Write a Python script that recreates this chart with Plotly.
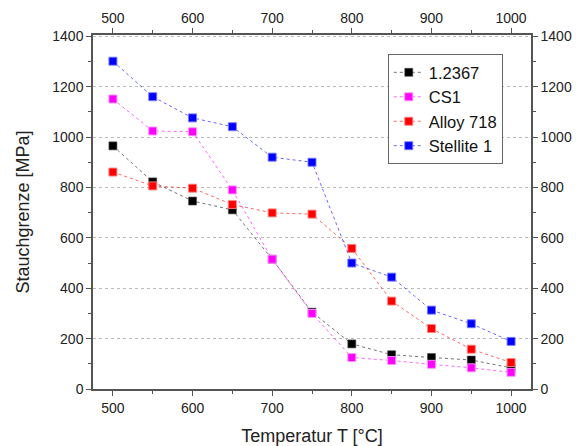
import plotly.graph_objects as go

temps = [500, 550, 600, 650, 700, 750, 800, 850, 900, 950, 1000]
s_12367 = [965, 822, 746, 711, 515, 305, 179, 136, 125, 115, 84]
s_cs1 = [1151, 1024, 1021, 790, 515, 300, 125, 113, 98, 84, 66]
s_alloy718 = [861, 806, 797, 732, 699, 694, 558, 349, 240, 158, 105]
s_stellite1 = [1301, 1160, 1076, 1041, 920, 900, 500, 444, 313, 259, 189]

names = ["1.2367", "CS1", "Alloy 718", "Stellite 1"]
series = [s_12367, s_cs1, s_alloy718, s_stellite1]
colors = ["#000000", "#FF00FF", "#FF0000", "#0000FF"]
line_colors = ["rgba(0,0,0,0.55)", "rgba(255,0,255,0.6)", "rgba(255,0,0,0.6)", "rgba(0,0,255,0.6)"]
border_colors = ["rgba(80,80,80,0.6)", "rgba(255,150,255,0.9)", "rgba(255,130,130,0.9)", "rgba(120,120,255,0.9)"]

fig = go.Figure()
for n, s, c, lc, bc in zip(names, series, colors, line_colors, border_colors):
    fig.add_trace(go.Scatter(
        x=temps, y=s, name=n, mode="lines+markers",
        line=dict(color=lc, width=1, dash="dot"),
        marker=dict(symbol="square", size=8, color=c, line=dict(color=bc, width=1)),
    ))

# invisible trace for top/right axes
fig.add_trace(go.Scatter(x=[temps[0]], y=[s_12367[0]], xaxis="x2", yaxis="y2",
                         mode="markers", marker=dict(opacity=0), showlegend=False,
                         hoverinfo="skip"))

FAM = "Liberation Sans, Arial, sans-serif"
font = dict(family=FAM, size=14, color="#222222")
axcommon = dict(showline=True, linecolor="#555555", linewidth=1.5,
                ticks="outside", ticklen=5, tickwidth=1.2, tickcolor="#555555",
                tickfont=font, zeroline=False, automargin=False)

x_range = [475, 1025]
y_range = [0, 1405]
xt = [500, 600, 700, 800, 900, 1000]
yt = [0, 200, 400, 600, 800, 1000, 1200, 1400]
xminor = dict(ticks="outside", ticklen=3, tickcolor="#555555", dtick=50, tick0=500, showgrid=False)
yminor = dict(ticks="outside", ticklen=3, tickcolor="#555555", dtick=100, tick0=0, showgrid=False)

fig.update_layout(
    width=576, height=446,
    margin=dict(l=93, r=45, t=35, b=57),
    paper_bgcolor="white", plot_bgcolor="white",
    font=font,
    xaxis=dict(range=x_range, tickvals=xt, showgrid=False, minor=xminor,
               title=dict(text="Temperatur T [°C]", font=dict(family=FAM, size=18, color="#222222"), standoff=15),
               **axcommon),
    yaxis=dict(range=y_range, tickvals=yt,
               showgrid=True, gridcolor="#BBBBBB", griddash="3px,3px", gridwidth=1,
               minor=yminor,
               title=dict(text="Stauchgrenze [MPa]", font=dict(family=FAM, size=18, color="#222222"), standoff=18),
               **axcommon),
    xaxis2=dict(range=x_range, overlaying="x", side="top", anchor="y",
                tickvals=xt, showgrid=False, minor=xminor, **axcommon),
    yaxis2=dict(range=y_range, overlaying="y", side="right", anchor="x",
                tickvals=yt, showgrid=False, minor=yminor, **axcommon),
    legend=dict(x=0.673, y=0.946, xanchor="left", yanchor="top",
                bgcolor="white", bordercolor="#666666", borderwidth=1,
                font=dict(family=FAM, size=16.5, color="#111111"),
                tracegroupgap=0, itemwidth=30),
)

fig.write_html("out.html", config={"displayModeBar": False},
               post_script="document.body.style.margin='0';")
